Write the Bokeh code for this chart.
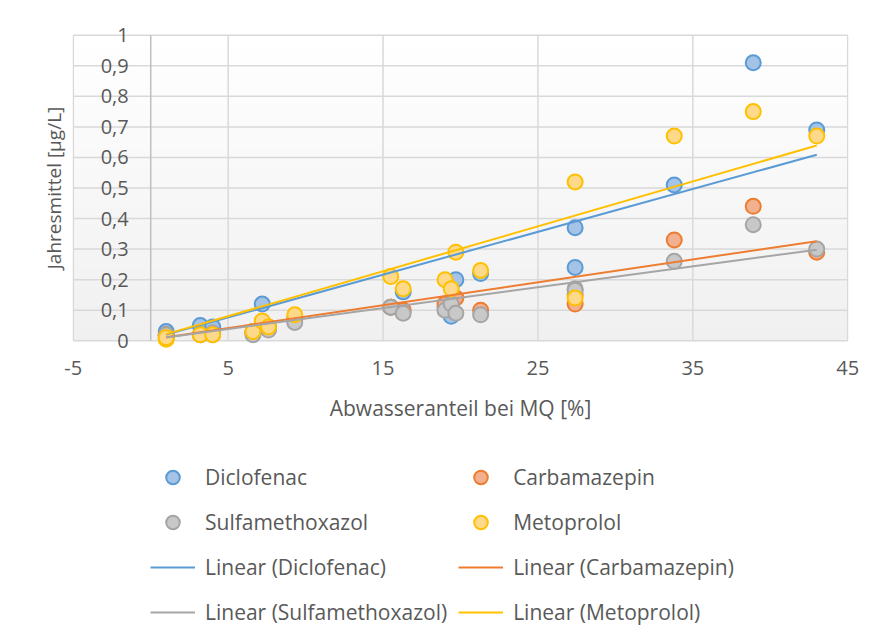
import numpy as np
from bokeh.plotting import figure
from bokeh.layouts import column
from bokeh.models import (FixedTicker, Legend, LegendItem, LabelSet,
                          ColumnDataSource, CustomJSTickFormatter, Range1d)
from bokeh.core.properties import value
from bokeh.embed import file_html
from bokeh.resources import INLINE

# ---------------- data ----------------
x_ticks = [-5, 5, 15, 25, 35, 45]
y_ticks = [0.0, 0.1, 0.2, 0.3, 0.4, 0.5, 0.6, 0.7, 0.8, 0.9, 1.0]
y_tick_labels = ["0", "0,1", "0,2", "0,3", "0,4", "0,5", "0,6", "0,7", "0,8", "0,9", "1"]

abwasseranteil = [1.0, 1.0, 3.2, 4.0, 6.6, 7.2, 7.6, 9.3, 15.5, 16.3,
                  19.0, 19.4, 19.7, 21.3, 27.4, 27.4, 33.8, 38.9, 43.0]
diclofenac = [0.03, 0.02, 0.05, 0.045, 0.03, 0.12, 0.045, 0.07, 0.11, 0.16,
              0.11, 0.08, 0.20, 0.22, 0.37, 0.24, 0.51, 0.91, 0.69]
carbamazepin = [0.02, 0.015, 0.02, 0.02, 0.025, 0.05, 0.04, 0.07, 0.11, 0.10,
                0.12, 0.10, 0.14, 0.10, 0.15, 0.12, 0.33, 0.44, 0.29]
sulfamethoxazol = [0.01, 0.02, 0.02, 0.025, 0.02, 0.05, 0.035, 0.06, 0.11, 0.09,
                   0.10, 0.12, 0.09, 0.085, 0.17, 0.165, 0.26, 0.38, 0.30]
metoprolol = [0.005, 0.01, 0.02, 0.02, 0.03, 0.065, 0.045, 0.085, 0.21, 0.17,
              0.20, 0.17, 0.29, 0.23, 0.52, 0.14, 0.67, 0.75, 0.67]

series_names = ["Diclofenac", "Carbamazepin", "Sulfamethoxazol", "Metoprolol"]
series_values = [diclofenac, carbamazepin, sulfamethoxazol, metoprolol]
# linear trendlines as shown in the chart (y = slope * x + intercept)
trend_slope = [0.01402, 0.00749, 0.00684, 0.01470]
trend_intercept = [0.006, 0.004, 0.004, 0.007]

line_colors = ["#5B9BD5", "#ED7D31", "#A5A5A5", "#FFC000"]
fill_colors = ["#A4C3E6", "#F3B08E", "#C8C8C8", "#FFD98A"]

FONT = "Open Sans"
TEXT = "#595959"
GRID = "#d9d9d9"

X0, X1 = -5, 45
Y0, Y1 = 0, 1

# ---------------- main figure ----------------
p = figure(width=875, height=435, output_backend="svg", toolbar_location=None,
           x_range=Range1d(X0 - 0.05, X1 + 0.05), y_range=Range1d(-0.045, 1.045),
           min_border_left=72, min_border_right=27, min_border_top=21,
           min_border_bottom=81)
p.background_fill_color = None
p.border_fill_color = "white"
p.outline_line_color = None

# subtle vertical gradient of the plot area (light gray -> white)
n = 64
t = np.linspace(0, 1, n)
g = np.round(240 + 15 * t).astype(np.uint32)
grad = (g | (g << 8) | (g << 16) | (np.uint32(255) << 24)).astype(np.uint32).reshape(n, 1)
p.image_rgba(image=[grad], x=X0, y=Y0, dw=X1 - X0, dh=Y1 - Y0, level="image")

# horizontal grid lines (limited to the plot area)
p.xgrid.visible = False
p.ygrid.visible = False
p.segment(x0=[X0] * len(y_ticks), y0=y_ticks, x1=[X1] * len(y_ticks), y1=y_ticks,
          line_color=GRID, line_width=1.5, level="underlay")
# vertical grid lines (limited to the plot area)
p.segment(x0=x_ticks, y0=[Y0] * len(x_ticks), x1=x_ticks, y1=[Y1] * len(x_ticks),
          line_color=GRID, line_width=1.5, level="underlay")
# vertical axis line at x = 0
p.segment(x0=[0], y0=[Y0], x1=[0], y1=[Y1], line_color="#bfbfbf", line_width=1.5,
          level="underlay")

# x axis (labels only; its line is the grid line at y = 0)
p.xaxis.ticker = FixedTicker(ticks=x_ticks)
p.xaxis.major_label_overrides = {-5: "-5"}
p.xaxis.major_tick_out = 0
p.xaxis.major_tick_in = 0
p.xaxis.minor_tick_out = 0
p.xaxis.minor_tick_in = 0
p.xaxis.axis_line_color = None
p.xaxis.major_label_standoff = 6
p.xaxis.major_label_text_font = FONT
p.xaxis.major_label_text_font_size = "20px"
p.xaxis.major_label_text_color = TEXT
p.xaxis.axis_label = "Abwasseranteil bei MQ [%]"
p.xaxis.axis_label_standoff = 16
p.xaxis.axis_label_text_font = FONT
p.xaxis.axis_label_text_font_size = "21px"
p.xaxis.axis_label_text_font_style = "normal"
p.xaxis.axis_label_text_color = TEXT

# y axis (only its title; the values are drawn next to the line at x = 0)
p.yaxis.ticker = FixedTicker(ticks=y_ticks)
p.yaxis.formatter = CustomJSTickFormatter(code="return ''")
p.yaxis.major_tick_out = 0
p.yaxis.major_tick_in = 0
p.yaxis.minor_tick_out = 0
p.yaxis.minor_tick_in = 0
p.yaxis.axis_line_color = None
p.yaxis.major_label_standoff = 0
p.yaxis.axis_label = "Jahresmittel [µg/L]"
p.yaxis.axis_label_standoff = 6
p.yaxis.axis_label_text_font = FONT
p.yaxis.axis_label_text_font_size = "19px"
p.yaxis.axis_label_text_font_style = "normal"
p.yaxis.axis_label_text_color = TEXT

ysrc = ColumnDataSource(dict(x=[0] * len(y_ticks), y=y_ticks, text=y_tick_labels))
p.add_layout(LabelSet(x="x", y="y", text="text", source=ysrc, x_offset=-22,
                      text_align="right", text_baseline="middle",
                      text_font=value(FONT), text_font_size="20px", text_color=TEXT))

# scatter points
for name, vals, lc, fc in zip(series_names, series_values, line_colors, fill_colors):
    p.scatter(abwasseranteil, vals, size=15, marker="circle",
              fill_color=fc, line_color=lc, line_width=2)

# linear trendlines
xa = np.array(abwasseranteil)
xl = np.array([xa.min(), xa.max()])
for k, d, lc in zip(trend_slope, trend_intercept, line_colors):
    p.line(xl, k * xl + d, line_color=lc, line_width=2)

# ---------------- legend (separate strip below) ----------------
p2 = figure(width=875, height=209, output_backend="svg", toolbar_location=None,
            x_range=Range1d(0, 1), y_range=Range1d(0, 1), min_border=0,
            x_axis_location=None, y_axis_location=None)
p2.grid.visible = False
p2.outline_line_color = None
p2.background_fill_color = "white"
p2.border_fill_color = "white"

# legend-only renderers: a single point placed outside the visible range
off = [-10.0]
marker_r = []
line_r = []
for lc, fc in zip(line_colors, fill_colors):
    marker_r.append(p2.scatter(x=off, y=off, size=13, marker="circle",
                               fill_color=fc, line_color=lc, line_width=2))
for lc in line_colors:
    line_r.append(p2.line(x=off + off, y=off + off, line_color=lc, line_width=2))

items = []
for name, r in zip(series_names, marker_r):
    items.append(LegendItem(label=name, renderers=[r]))
for name, r in zip(series_names, line_r):
    items.append(LegendItem(label="Linear (%s)" % name, renderers=[r]))

legend = Legend(items=items, orientation="horizontal", ncols=2,
                location=(78, 15), padding=0, margin=0, spacing=11,
                glyph_width=45, glyph_height=34, label_height=34,
                label_standoff=10, border_line_color=None,
                background_fill_alpha=0,
                label_text_font=FONT, label_text_font_size="21px",
                label_text_color=TEXT)
p2.add_layout(legend)

layout = column(p, p2, spacing=0)
open("out.html", "w").write(file_html(layout, INLINE))
